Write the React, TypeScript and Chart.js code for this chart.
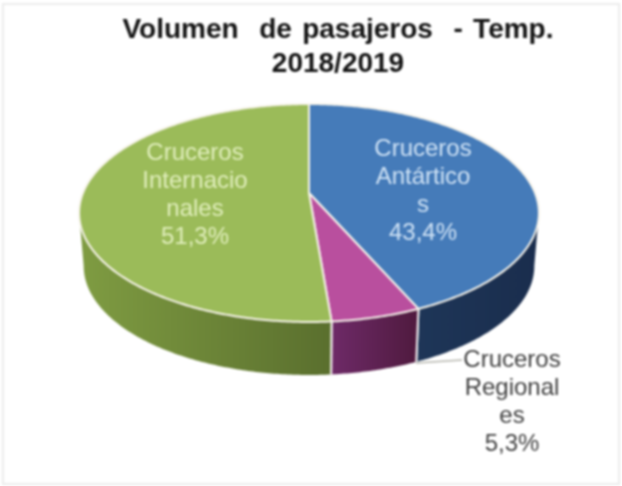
import React, { useEffect, useRef } from "react";
import { Chart, registerables } from "chart.js";

Chart.register(...registerables);

const categories = ["Cruceros Antárticos", "Cruceros Regionales", "Cruceros Internacionales"];
const shares = [43.4, 5.3, 51.3];
const wrappedNames = [
  ["Cruceros", "Antártico", "s"],
  ["Cruceros", "Regional", "es"],
  ["Cruceros", "Internacio", "nales"],
];
const topColours = ["#457bb9", "#b94f9e", "#9bbb59"];
const wallColours = [
  ["#1e3658", "#1a2d4d"],
  ["#6e2a68", "#4f1a3e"],
  ["#7f9c42", "#5a6f2e"],
];
const labelColours = ["#cfe2f5", "#404040", "#e0eebc"];
const labelAnchors = [
  { x: 423, y: 149 },
  { x: 512, y: 360 },
  { x: 195, y: 153 },
];
const titleLines = ["Volumen  de pasajeros  - Temp.", "2018/2019"];

const CX = 309;
const CY = 193;
const A = 226;
const B = 105.3;
const K = -0.1835;
const DEPTH = 53;
const SHRINK = 0.98;

const project = (angle: number) => {
  const u = Math.cos(angle);
  const v = Math.sin(angle);
  const d = 1 + K * v;
  return { x: CX + (A * u) / d, y: CY + (B * v) / d };
};
const lower = (p: { x: number; y: number }) => ({
  x: CX + (p.x - CX) * SHRINK,
  y: p.y + DEPTH,
});
const sampled = (a0: number, a1: number) => {
  const steps = Math.max(2, Math.ceil(Math.abs(a1 - a0) / 0.01));
  const out: number[] = [];
  for (let i = 0; i <= steps; i++) out.push(a0 + ((a1 - a0) * i) / steps);
  return out;
};

const pie3d = {
  id: "pie3d",
  beforeDraw(chart: any) {
    const { ctx, width, height } = chart;
    ctx.save();
    ctx.fillStyle = "#ffffff";
    ctx.fillRect(0, 0, width, height);
    ctx.strokeStyle = "#ececec";
    ctx.lineWidth = 2;
    ctx.strokeRect(3, 4, width - 6, height - 6);
    ctx.restore();
    ctx.wordSpacing = "2.5px";
  },
  beforeDatasetsDraw(chart: any) {
    const { ctx } = chart;
    ctx.wordSpacing = "0px";
    const arcs = chart.getDatasetMeta(0).data;
    const colours = chart.data.datasets[0].backgroundColor;
    const visStart = Math.asin(-K);
    const visEnd = Math.PI - visStart;
    const norm = (a: number) => {
      let r = a;
      while (r < -Math.PI / 2 - 1e-6) r += Math.PI * 2;
      return r;
    };
    ctx.save();
    ctx.lineJoin = "round";
    // side walls
    arcs.forEach((arc: any, i: number) => {
      const s = Math.max(norm(arc.startAngle), visStart);
      const e = Math.min(norm(arc.endAngle), visEnd);
      if (e <= s) return;
      const angles = sampled(s, e);
      const upper = angles.map(project);
      const under = upper.map(lower);
      const xs = upper.map((p) => p.x).concat(under.map((p) => p.x));
      const grad = ctx.createLinearGradient(Math.min(...xs), 0, Math.max(...xs), 0);
      grad.addColorStop(0, wallColours[i][0]);
      grad.addColorStop(1, wallColours[i][1]);
      ctx.beginPath();
      upper.forEach((p, j) => (j ? ctx.lineTo(p.x, p.y) : ctx.moveTo(p.x, p.y)));
      under.reverse().forEach((p) => ctx.lineTo(p.x, p.y));
      ctx.closePath();
      ctx.fillStyle = grad;
      ctx.fill();
      // white seam at the slice boundaries that face the viewer
      [arc.startAngle, arc.endAngle].forEach((raw: number) => {
        const a = norm(raw);
        if (a > visStart && a < visEnd) {
          const p = project(a);
          const q = lower(p);
          ctx.beginPath();
          ctx.moveTo(p.x, p.y);
          ctx.lineTo(q.x, q.y);
          ctx.strokeStyle = "#f4f0f0";
          ctx.lineWidth = 2;
          ctx.stroke();
        }
      });
    });
    // top faces
    arcs.forEach((arc: any, i: number) => {
      const angles = sampled(arc.startAngle, arc.endAngle);
      ctx.beginPath();
      ctx.moveTo(CX, CY);
      angles.map(project).forEach((p) => ctx.lineTo(p.x, p.y));
      ctx.closePath();
      ctx.fillStyle = colours[i];
      ctx.fill();
      ctx.strokeStyle = "#f6f3ea";
      ctx.lineWidth = 2;
      ctx.stroke();
    });
    ctx.restore();
    return false;
  },
  afterDraw(chart: any) {
    const { ctx } = chart;
    ctx.save();
    ctx.strokeStyle = "#b5b5ad";
    ctx.lineWidth = 1.5;
    ctx.beginPath();
    ctx.moveTo(416, 363);
    ctx.lineTo(462, 360);
    ctx.stroke();
    ctx.font = '24px "Liberation Sans"';
    ctx.textAlign = "center";
    ctx.textBaseline = "middle";
    shares.forEach((v, i) => {
      const lines = [...wrappedNames[i], `${v.toFixed(1).replace(".", ",")}%`];
      ctx.fillStyle = labelColours[i];
      lines.forEach((line, j) => ctx.fillText(line, labelAnchors[i].x, labelAnchors[i].y + j * 28));
    });
    ctx.restore();
  },
};

export default function App() {
  const ref = useRef<HTMLCanvasElement>(null);
  useEffect(() => {
    document.body.style.margin = "0";
    const chart = new Chart(ref.current as HTMLCanvasElement, {
      type: "pie",
      data: {
        labels: categories,
        datasets: [{ data: shares, backgroundColor: topColours, borderColor: "#ffffff", borderWidth: 2 }],
      },
      options: {
        animation: false,
        responsive: false,
        layout: { padding: { left: 54, top: 13 } },
        plugins: {
          legend: { display: false },
          tooltip: { enabled: false },
          title: {
            display: true,
            text: titleLines,
            color: "#141414",
            font: { family: '"Liberation Sans"', size: 28, weight: "bold", lineHeight: 1.22 },
            padding: 0,
          },
        },
      },
      plugins: [pie3d],
    } as any);
    return () => chart.destroy();
  }, []);
  return (
    <div style={{ width: 622, height: 486 }}>
      <canvas ref={ref} width={622} height={486} style={{ display: "block", filter: "blur(0.8px)" }} />
    </div>
  );
}
